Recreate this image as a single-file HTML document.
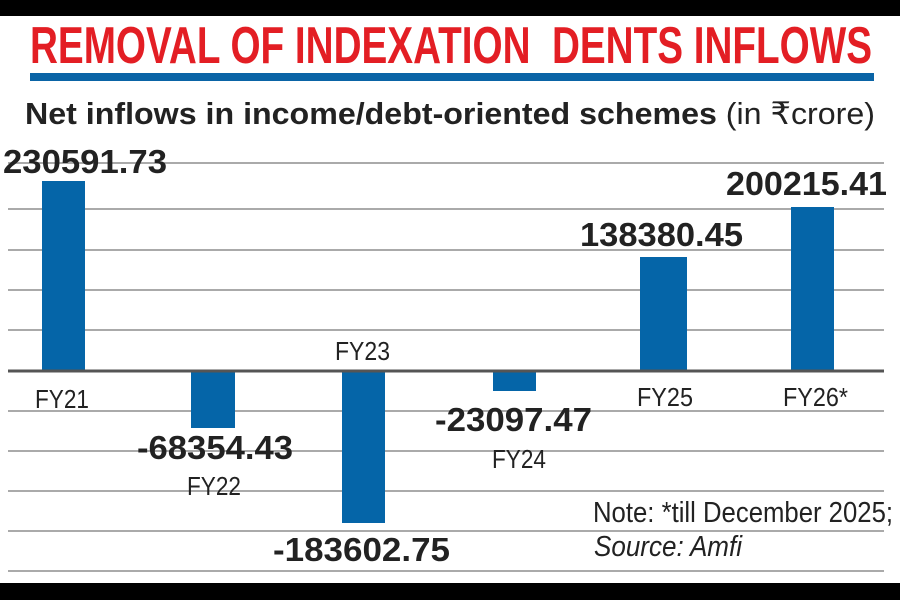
<!DOCTYPE html>
<html><head><meta charset="utf-8"><style>
html,body{margin:0;padding:0;background:#000;}
svg{display:block;}
</style></head><body>
<svg width="900" height="600" xmlns="http://www.w3.org/2000/svg" font-family="Liberation Sans, sans-serif">
<rect x="0" y="16" width="900" height="567" fill="#fff"/>
<text x="30" y="63" font-size="52" font-weight="bold" fill="#e31e24" textLength="842" lengthAdjust="spacingAndGlyphs">REMOVAL OF INDEXATION&#160; DENTS INFLOWS</text>
<rect x="30" y="73" width="844" height="8" fill="#0a64a6"/>
<text x="25" y="124" font-size="31" fill="#222" textLength="850" lengthAdjust="spacingAndGlyphs"><tspan font-weight="bold">Net inflows in income/debt-oriented schemes</tspan> (in ₹crore)</text>
<g stroke="#aaa" stroke-width="2">
<line x1="8" x2="884" y1="163" y2="163"/>
<line x1="8" x2="884" y1="209" y2="209"/>
<line x1="8" x2="884" y1="250" y2="250"/>
<line x1="8" x2="884" y1="290" y2="290"/>
<line x1="8" x2="884" y1="330" y2="330"/>
<line x1="8" x2="884" y1="411" y2="411"/>
<line x1="8" x2="884" y1="451" y2="451"/>
<line x1="8" x2="884" y1="491" y2="491"/>
<line x1="8" x2="884" y1="531" y2="531"/>
<line x1="8" x2="884" y1="571" y2="571"/>
</g>
<g fill="#0565a8">
<rect x="42" y="181" width="43" height="190"/>
<rect x="191" y="371" width="44" height="57"/>
<rect x="342" y="371" width="43" height="152"/>
<rect x="493" y="371" width="43" height="20"/>
<rect x="640" y="257" width="47" height="114"/>
<rect x="791" y="207" width="43" height="164"/>
</g>
<line x1="8" x2="884" y1="371" y2="371" stroke="#555" stroke-width="3"/>
<g font-size="33" font-weight="bold" fill="#222">
<text x="3" y="173" textLength="164" lengthAdjust="spacingAndGlyphs">230591.73</text>
<text x="726" y="195" textLength="161" lengthAdjust="spacingAndGlyphs">200215.41</text>
<text x="580" y="246" textLength="163" lengthAdjust="spacingAndGlyphs">138380.45</text>
<text x="137" y="459" textLength="156" lengthAdjust="spacingAndGlyphs">-68354.43</text>
<text x="273" y="561" textLength="177" lengthAdjust="spacingAndGlyphs">-183602.75</text>
<text x="435" y="431" textLength="157" lengthAdjust="spacingAndGlyphs">-23097.47</text>
</g>
<g font-size="26" fill="#222">
<text x="35" y="408" textLength="54" lengthAdjust="spacingAndGlyphs">FY21</text>
<text x="187" y="495" textLength="54" lengthAdjust="spacingAndGlyphs">FY22</text>
<text x="335" y="360" textLength="55" lengthAdjust="spacingAndGlyphs">FY23</text>
<text x="492" y="468" textLength="54" lengthAdjust="spacingAndGlyphs">FY24</text>
<text x="637" y="406" textLength="56" lengthAdjust="spacingAndGlyphs">FY25</text>
<text x="783" y="406" textLength="65" lengthAdjust="spacingAndGlyphs">FY26*</text>
<text x="593" y="522" font-size="29" textLength="300" lengthAdjust="spacingAndGlyphs">Note: *till December 2025;</text>
<text x="594" y="556" font-size="29" font-style="italic" textLength="148" lengthAdjust="spacingAndGlyphs">Source: Amfi</text>
</g>
</svg>
</body></html>
